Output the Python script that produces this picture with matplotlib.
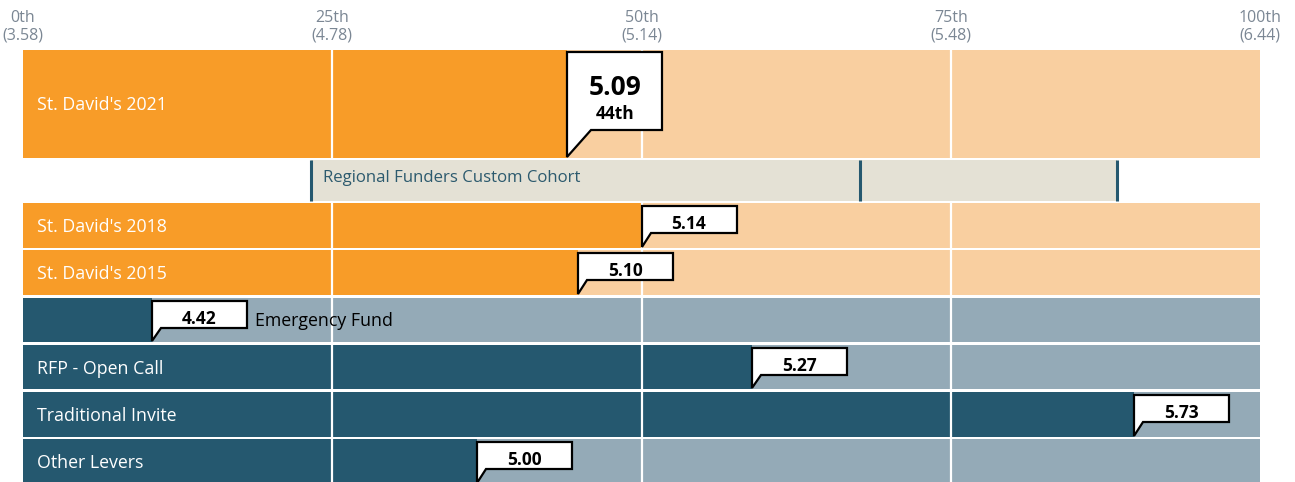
import matplotlib.pyplot as plt
from matplotlib.patches import Polygon

plt.rcParams['font.family'] = ['Open Sans', 'DejaVu Sans']

# percentile scale ticks
tick_pcts = [0, 25, 50, 75, 100]
tick_names = ['0th', '25th', '50th', '75th', '100th']
tick_scores = ['(3.58)', '(4.78)', '(5.14)', '(5.48)', '(6.44)']

# rows
labels = ["St. David's 2021", "St. David's 2018", "St. David's 2015",
          'Emergency Fund', 'RFP - Open Call', 'Traditional Invite', 'Other Levers']
scores = ['5.09', '5.14', '5.10', '4.42', '5.27', '5.73', '5.00']
percentiles = [44.0, 50.0, 44.9, 10.4, 58.9, 89.8, 36.7]
groups = ['sd', 'sd', 'sd', 'grant', 'grant', 'grant', 'grant']

# comparison cohort
cohort_name = 'Regional Funders Custom Cohort'
cohort_low, cohort_mid, cohort_high = 23.3, 67.7, 88.4

colors = {'sd': ('#F89C28', '#F9CFA0'), 'grant': ('#25586F', '#94AAB7')}

W, H = 1295, 482
px = 12.37  # pixels per percentile point
fig = plt.figure(figsize=(W / 100, H / 100), dpi=100)
ax = fig.add_axes([0, 0, 1, 1])
ax.set_xlim(-23 / px, (W - 23) / px)
ax.set_ylim(H, 0)
ax.axis('off')

# row bands in pixel units (top, bottom)
rows = [(50, 158), (203, 248), (250, 295), (298, 342), (345, 389), (392, 437), (439, 484)]
cohort_row = (160, 201)

for i, (lab, sc, p, g) in enumerate(zip(labels, scores, percentiles, groups)):
    top, bot = rows[i]
    mid = (top + bot) / 2
    dark, light = colors[g]
    ax.barh(mid, 100, height=bot - top, left=0, color=light, lw=0)
    ax.barh(mid, p, height=bot - top, left=0, color=dark, lw=0)
    ax.vlines([25, 50, 75], top, bot, color='white', lw=1.6)

    if i == 0:
        bw, btop, bbot, tail = 95 / px, top + 2, top + 80, 24 / px
    else:
        bw, btop, bbot, tail = 95 / px, top + 3, top + 30, 9 / px
    shape = [(p, bot - 1), (p, btop), (p + bw, btop), (p + bw, bbot), (p + tail, bbot)]
    ax.add_patch(Polygon(shape, closed=True, facecolor='white', edgecolor='black',
                         lw=1.6, joinstyle='miter', zorder=4))
    if i == 0:
        ax.text(p + bw / 2, top + 45, sc, ha='center', va='baseline',
                fontsize=19, fontweight='bold', zorder=5)
        ax.text(p + bw / 2, top + 69, '44th', ha='center', va='baseline',
                fontsize=12.5, fontweight='bold', zorder=5)
    else:
        ax.text(p + bw / 2, btop + 23, sc, ha='center', va='baseline',
                fontsize=12.5, fontweight='bold', zorder=5)

    if p < 20:
        ax.text(p + bw + 8 / px, mid + 6.5, lab, ha='left', va='baseline',
                fontsize=12.8, color='black', zorder=5)
    else:
        ax.text(14 / px, mid + 6.5, lab, ha='left', va='baseline',
                fontsize=12.8, color='white', zorder=5)

# cohort band
ctop, cbot = cohort_row
ax.barh((ctop + cbot) / 2, cohort_high - cohort_low, height=cbot - ctop,
        left=cohort_low, color='#E4E1D5', lw=0)
ax.vlines([cohort_low, cohort_mid, cohort_high], ctop, cbot, color='#25586F', lw=2.2)
ax.text(cohort_low + 12 / px, 182, cohort_name, ha='left', va='baseline',
        fontsize=12.1, color='#2C5A6E')

# top scale labels
for p, n, s in zip(tick_pcts, tick_names, tick_scores):
    ax.text(p, 22, n, ha='center', va='baseline', fontsize=11.5, color='#7B8794')
    ax.text(p, 40, s, ha='center', va='baseline', fontsize=11.5, color='#7B8794')

fig.savefig('out.png', dpi=100)
